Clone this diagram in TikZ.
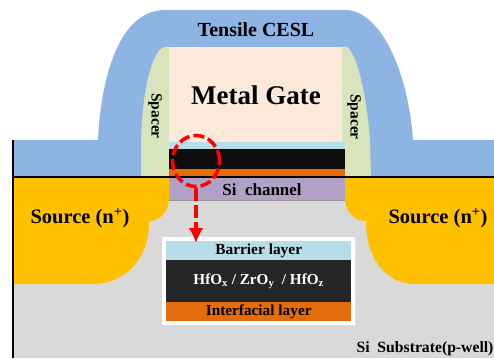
\documentclass[tikz,border=0pt]{standalone}
\usepackage{fontspec}
\setmainfont{Liberation Serif}
\usepackage{tikz}
\usetikzlibrary{shapes,arrows.meta,positioning,calc}
\usepackage{xcolor}

\definecolor{cesl}{RGB}{141,180,226}
\definecolor{spacer}{RGB}{216,228,188}
\definecolor{gatefill}{RGB}{253,233,217}
\definecolor{barrier}{RGB}{183,222,232}
\definecolor{hkblack}{RGB}{38,38,38}
\definecolor{ilorange}{RGB}{228,108,10}
\definecolor{channel}{RGB}{178,161,199}
\definecolor{source}{RGB}{255,192,0}
\definecolor{substrate}{RGB}{217,217,217}

\tikzset{
  lbl/.style={font=\bfseries, text=black, inner sep=0pt},
  layer/.style={draw=none, minimum width=185, inner sep=0pt, anchor=north west},
}

\begin{document}
\begin{tikzpicture}[x=1pt, y=-1pt]
\useasboundingbox (0,0) rectangle (494,358);

% Substrate
\fill[substrate] (13,177) rectangle (494,358);

% Source regions
\fill[source] (13,177) -- (169,177) -- (169,198) .. controls (169,212) and (160,221) .. (149,221)
  .. controls (150,255) and (128,284) .. (92,284) -- (13,284) -- cycle;
\fill[source] (494,177) -- (345,177) -- (345,198) .. controls (345,212) and (354,221) .. (366,221)
  .. controls (366,258) and (385,284) .. (416,284) -- (494,284) -- cycle;

% CESL
\fill[cesl] (13,140) -- (98,140) .. controls (100,90) and (115,10) .. (165,10) -- (345,10)
  .. controls (380,10) and (408,70) .. (413,140) -- (494,140) -- (494,177) -- (13,177) -- cycle;

% Spacers
\fill[spacer] (170,47) -- (165,47) .. controls (150,50) and (142,100) .. (141,140) -- (141,177) -- (170,177) -- cycle;
\fill[spacer] (342,47) -- (347,47) .. controls (358,55) and (367,100) .. (370,140) -- (371,177) -- (342,177) -- cycle;

% Gate stack
\fill[gatefill] (169,47) rectangle (342,143);
\fill[barrier] (169,142) rectangle (345,149);
\fill[black!95] (169,149) rectangle (345,169);
\fill[ilorange] (169,169) rectangle (345,177);
\fill[channel] (169,177) rectangle (345,200);
\fill[black!40] (169,199.5) rectangle (345,201);

% Outline lines
\draw[line width=1.5] (13,140) -- (13,358);
\draw[line width=1.5] (13,177) -- (494,177);

% Labels
\node[lbl, font=\bfseries\fontsize{20}{22}\selectfont] (cesllabel) at (256,30) {Tensile CESL};
\node[lbl, font=\bfseries\fontsize{27}{29}\selectfont] (gatelabel) at (256,95) {Metal Gate};
\node[lbl, font=\bfseries\fontsize{15.5}{17}\selectfont, rotate=-90] (leftspacer) at (155,116) {Spacer};
\node[lbl, font=\bfseries\fontsize{15.5}{17}\selectfont, rotate=-90] (rightspacer) at (354,117) {Spacer};
\node[lbl, font=\bfseries\fontsize{17}{19}\selectfont] (channellabel) at (262,190) {Si\ \ channel};
\node[lbl, font=\bfseries\fontsize{20.5}{22}\selectfont] (leftsource) at (80,218) {Source (n\textsuperscript{+})};
\node[lbl, font=\bfseries\fontsize{20.5}{22}\selectfont] (rightsource) at (438,218) {Source (n\textsuperscript{+})};
\node[lbl, font=\bfseries\fontsize{15.7}{17}\selectfont] (sublabel) at (425,349) {Si\ \ Substrate(p-well)};

% Inset
\fill[white, rounded corners=1] (162,237) rectangle (355,325);
\node[layer, fill=barrier, minimum height=19] (barrierlayer) at (166,241) {};
\node[layer, fill=hkblack, minimum height=42] (hklayer) at (166,260) {};
\node[layer, fill=ilorange, minimum height=19] (illayer) at (166,302) {};
\node[lbl, font=\bfseries\fontsize{15.4}{17}\selectfont] at (barrierlayer) {Barrier layer};
\node[lbl, text=white, font=\bfseries\fontsize{15.2}{17}\selectfont] at (hklayer) {HfO\textsubscript{x} / ZrO\textsubscript{y}\ \ / HfO\textsubscript{z}};
\node[lbl, font=\bfseries\fontsize{15.3}{17}\selectfont] at (illayer) {Interfacial layer};

% Zoom marker
\node[ellipse, draw=red, line width=3.5, dash pattern=on 11 off 4, minimum width=47, minimum height=51, inner sep=0pt] (zoomring) at (196,161) {};
\coordinate (arrowend) at (196,243);
\draw[red, line width=4, dash pattern=on 13 off 4, -{Latex[length=15,width=15]}] (zoomring.south) -- (arrowend);

\end{tikzpicture}
\end{document}
